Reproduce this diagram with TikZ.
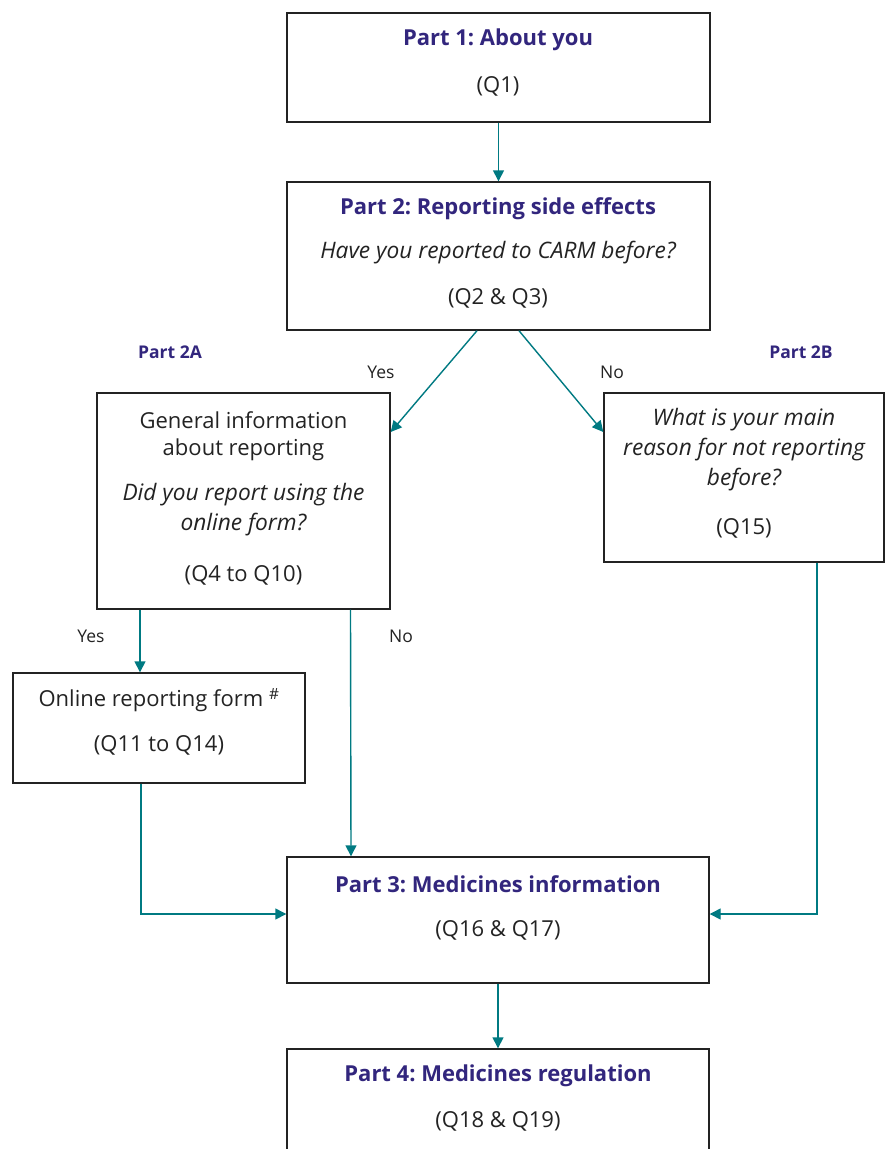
\documentclass[tikz,border=0pt]{standalone}
\usepackage{fontspec}
\setmainfont{Open Sans}
\usetikzlibrary{arrows.meta,calc}
\definecolor{purp}{RGB}{50,38,125}
\definecolor{tealc}{RGB}{0,122,130}
\definecolor{ink}{RGB}{35,35,35}
\frenchspacing
\begin{document}
\begin{tikzpicture}[x=1pt,y=-1pt,
  box/.style={draw=ink,line width=1.4pt,inner sep=0pt,fill=white},
  conn/.style={draw=tealc,line width=1.4pt,-{Triangle[length=11pt,width=11pt]}},
  ttl/.style={font=\fontsize{22}{26}\selectfont\bfseries,text=purp,inner sep=0pt},
  txt/.style={font=\fontsize{22}{26}\selectfont,text=ink,inner sep=0pt},
  itx/.style={font=\fontsize{22.7}{26}\selectfont\itshape,text=ink,inner sep=0pt},
  lbl/.style={font=\fontsize{17.5}{20}\selectfont,text=ink,inner sep=0pt},
  plbl/.style={font=\fontsize{17.5}{20}\selectfont\bfseries,text=purp,inner sep=0pt}]
\clip (0,0) rectangle (885,1149);
\fill[white] (0,0) rectangle (885,1149);

% boxes
\node[box,minimum width=423pt,minimum height=109pt] (b1) at (498.5,67.5) {};
\node[box,minimum width=423pt,minimum height=148pt] (b2) at (498.5,256) {};
\node[box,minimum width=293pt,minimum height=216pt] (b2a) at (243.5,501) {};
\node[box,minimum width=280pt,minimum height=169pt] (b2b) at (744,477.5) {};
\node[box,minimum width=292pt,minimum height=110pt] (bon) at (159,728) {};
\node[box,minimum width=422pt,minimum height=126pt] (b3) at (498,920) {};
\node[box,minimum width=422pt,minimum height=140pt] (b4) at (498,1119) {};

% texts
\node[ttl] (t1a) at (498,40) {Part 1: About you};
\node[txt] (t1b) at (498,86) {(Q1)};
\node[ttl] (t2a) at (498,209) {Part 2: Reporting side effects};
\node[itx] (t2b) at (498,253) {Have you reported to CARM before?};
\node[txt] (t2c) at (498,298) {(Q2 \& Q3)};
\node[txt] (t2aa) at (243.5,420) {General information};
\node[txt] (t2ab) at (243.5,450) {about reporting};
\node[itx] (t2ac) at (243.5,495) {Did you report using the};
\node[itx] (t2ad) at (243.5,525) {online form?};
\node[txt] (t2ae) at (243.5,575) {(Q4 to Q10)};
\node[itx] (t2ba) at (744,420) {What is your main};
\node[itx] (t2bb) at (744,450) {reason for not reporting};
\node[itx] (t2bc) at (744,480) {before?};
\node[txt] (t2bd) at (744,528) {(Q15)};
\node[txt] (tona) at (159,700) {Online reporting form \textsuperscript{\#}};
\node[txt] (tonb) at (159,745) {(Q11 to Q14)};
\node[ttl] (t3a) at (498,884) {Part 3: Medicines information};
\node[txt] (t3b) at (498,930) {(Q16 \& Q17)};
\node[ttl] (t4a) at (498,1076) {Part 4: Medicines regulation};
\node[txt] (t4b) at (498,1121) {(Q18 \& Q19)};

% labels
\node[plbl] (p2a) at (170,352) {Part 2A};
\node[plbl] (p2b) at (801,352) {Part 2B};
\node[lbl] (y1) at (381,372) {Yes};
\node[lbl] (n1) at (612,372) {No};
\node[lbl] (y2) at (91,636) {Yes};
\node[lbl] (n2) at (401,636) {No};

% connectors
\draw[conn] (b1.south) -- (b2.north);
\draw[conn] ($(b2.south)+(-21.5,0)$) -- ($(b2a.east)+(0,-69)$);
\draw[conn] ($(b2.south)+(20.5,0)$) -- ($(b2b.west)+(0,-45.5)$);
\coordinate (c0) at ($(b2a.south)+(-103.5,0)$);
\draw[conn] (c0) -- (c0 |- bon.north);
\coordinate (c1) at ($(bon.south)+(-18,0)$);
\coordinate (c2) at (c1 |- b3.west);
\draw[conn] (c1) -- ($(c2)+(0,-6)$) -- ($(b3.west)+(0,-6)$);
\draw[conn] ($(b2a.south)+(107,0)$) -- ($(b3.north)+(-147,0)$);
\coordinate (c3) at ($(b2b.south)+(73,0)$);
\draw[conn] (c3) -- ($(c3 |- b3.east)+(0,-6)$) -- ($(b3.east)+(0,-6)$);
\draw[conn] (b3.south) -- (b4.north);
\end{tikzpicture}
\end{document}
